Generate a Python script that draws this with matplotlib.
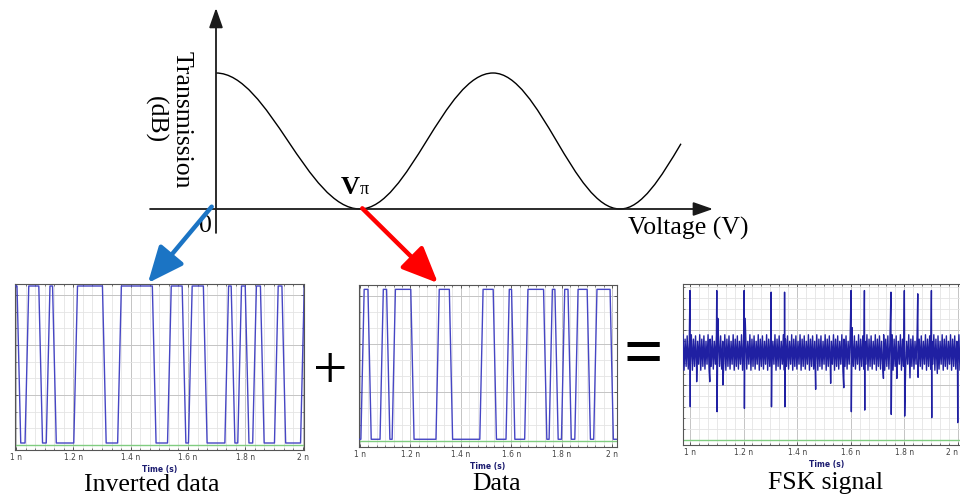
import numpy as np
import matplotlib

matplotlib.use("Agg")

import matplotlib.pyplot as plt
from matplotlib.path import Path
from matplotlib.patches import PathPatch

W, H = 960, 497
SERIF = "Liberation Serif"

# modulator transfer curve, voltage in units of V_pi, transmission normalised
extrema_voltage = [0.0, 1.0, 1.924, 2.806]
extrema_transmission = [1.0, 0.0, 1.0, 0.0]
end_voltage = 3.229
end_transmission = 0.48

# edge times of the bit stream (ns); "Data" starts low, inverted starts high
bit_edges = [1.010, 1.038, 1.086, 1.112, 1.134, 1.208, 1.308, 1.361, 1.482,
             1.535, 1.586, 1.608, 1.660, 1.735, 1.757, 1.780, 1.806, 1.832,
             1.859, 1.908, 1.934, 1.999]
data_high, data_low = 3.13, 0.03
inv_high, inv_low = 3.18, 0.04

# FSK signal: spikes and dips riding on a dense carrier band
spike_times = [1.000, 1.100, 1.202, 1.303, 1.353, 1.601, 1.651, 1.750,
               1.800, 1.850, 1.901, 1.998]
spike_tops = [2.73, 2.73, 2.73, 2.70, 2.70, 2.73, 2.73, 2.70, 2.73, 2.67, 2.73, 1.76]
spike_bottoms = [0.60, 0.51, 0.57, 0.60, 0.60, 0.51, 0.54, 0.46, 0.43, 1.14, 0.40, 0.31]
mid_spike_times = [1.104, 1.206, 1.605]
mid_spike_tops = [2.22, 2.22, 2.05]
dip_times = [1.025, 1.074, 1.123, 1.469, 1.525, 1.574, 1.722, 1.772, 1.821, 1.923]
dip_levels = [1.06, 1.06, 1.00, 0.92, 1.03, 0.95, 1.12, 1.12, 1.13, 1.21]
carrier_tops = [1.92, 1.84, 1.90, 1.80]
carrier_bottoms = [1.27, 1.34, 1.29, 1.38]
carrier_period = 0.0078

time_ticks = [1.0, 1.2, 1.4, 1.6, 1.8, 2.0]
time_labels = ["1 n", "1.2 n", "1.4 n", "1.6 n", "1.8 n", "2 n"]
captions = ["Inverted data", "Data", "FSK signal"]


def px_axes(fig, left, top, right, bottom):
    return fig.add_axes([left / W, 1 - bottom / H, (right - left) / W, (bottom - top) / H])


def square_wave(edges, start_high, high, low, t0, t1, ramp=0.013):
    state = start_high
    ts = [t0]
    vs = [high if state else low]
    for edge in edges:
        old = high if state else low
        state = not state
        new = high if state else low
        ts += [edge - ramp / 2, edge + ramp / 2]
        vs += [old, new]
    ts.append(t1)
    vs.append(high if state else low)
    return ts, vs


def style_scope(ax, xlim, ylim, y_major, y_minor):
    ax.set_xticks(time_ticks)
    ax.set_xticklabels(time_labels)
    ax.set_xticks(np.arange(0.9, 2.1, 1 / 30), minor=True)
    ax.set_yticks(y_major)
    ax.set_yticks(y_minor, minor=True)
    ax.set_yticklabels([])
    # limits after the ticks, set_ticks would widen them otherwise
    ax.set_xlim(xlim)
    ax.set_ylim(ylim)
    ax.grid(which="minor", color="#e4e4e4", linewidth=0.6)
    ax.grid(which="major", color="#c4c4c4", linewidth=0.7)
    ax.set_axisbelow(True)
    for spine in ax.spines.values():
        spine.set_color("#555555")
        spine.set_linewidth(0.8)
    ax.tick_params(which="both", direction="in", top=True, right=True,
                   colors="#444444", labelsize=5.5, pad=2.5)
    ax.tick_params(which="major", length=2.5, width=0.6)
    ax.tick_params(which="minor", length=1.3, width=0.5)
    ax.set_xlabel("Time (s)", fontsize=5.5, fontweight="bold", color="#1c1c70", labelpad=1.5)
    ax.axhline(0, color="#80cc80", linewidth=1.0, zorder=2)


fig = plt.figure(figsize=(W / 100, H / 100), dpi=100)

# ---- transfer curve -------------------------------------------------------
ax_top = px_axes(fig, 140, 0, 730, 240)
ax_top.set_xlim((140 - 216) / 144, (730 - 216) / 144)
ax_top.set_ylim((209 - 240) / 136, 209 / 136)
ax_top.axis("off")

axis_arrow = dict(arrowstyle="-|>,head_length=1.2,head_width=0.42", color="#1a1a1a",
                  lw=1.3, shrinkA=0, shrinkB=0, mutation_scale=10)
ax_top.annotate("", xy=(3.451, 0), xytext=(-0.458, 0), arrowprops=axis_arrow)
ax_top.annotate("", xy=(0, 1.478), xytext=(0, -0.176), arrowprops=axis_arrow)

verts = [(extrema_voltage[0], extrema_transmission[0])]
codes = [Path.MOVETO]
for i in range(len(extrema_voltage) - 1):
    x0, y0 = extrema_voltage[i], extrema_transmission[i]
    x1, y1 = extrema_voltage[i + 1], extrema_transmission[i + 1]
    c = 0.3642 * (x1 - x0)
    verts += [(x0 + c, y0), (x1 - c, y1), (x1, y1)]
    codes += [Path.CURVE4] * 3
x0, y0 = extrema_voltage[-1], extrema_transmission[-1]
verts += [(x0 + 0.15, y0), (end_voltage - 0.14, end_transmission - 1.78 * 0.14),
          (end_voltage, end_transmission)]
codes += [Path.CURVE4] * 3
ax_top.add_patch(PathPatch(Path(verts, codes), fill=False, edgecolor="black", lw=1.0))

ax_top.text(-0.33, 0.655, "Transmission\n(dB)", rotation=-90, ha="center", va="center",
            family=SERIF, fontsize=18.5, multialignment="center", linespacing=1.2)
ax_top.text(2.861, -0.14, "Voltage (V)", ha="left", va="center", family=SERIF, fontsize=18.5)
ax_top.text(-0.075, -0.125, "0", ha="center", va="center", family=SERIF, fontsize=18.5)
ax_top.text(0.935, 0.16, "V", ha="center", va="center", family=SERIF, fontsize=19,
            fontweight="bold")
ax_top.text(1.03, 0.14, "π", ha="center", va="center", family=SERIF, fontsize=13)

# ---- inverted data --------------------------------------------------------
ax_inv = px_axes(fig, 15, 284, 304, 450)
style_scope(ax_inv, (0.9965, 2.0045), (-0.1, 3.22), [0, 1, 2, 3], np.arange(0, 3.3, 1 / 3))
t_inv, v_inv = square_wave(bit_edges, True, inv_high, inv_low, 0.99, 2.01)
ax_inv.plot(t_inv, v_inv, color="#4646c4", lw=1.0, zorder=3)

# ---- data -----------------------------------------------------------------
ax_dat = px_axes(fig, 359, 285, 617, 447)
style_scope(ax_dat, (0.996, 2.02), (-0.13, 3.22), [0, 1, 2, 3], np.arange(0, 3.3, 1 / 3))
t_dat, v_dat = square_wave(bit_edges, False, data_high, data_low, 0.99, 2.03)
ax_dat.plot(t_dat, v_dat, color="#4646c4", lw=1.0, zorder=3)

# ---- FSK signal -----------------------------------------------------------
ax_fsk = px_axes(fig, 683, 284, 970, 445)
style_scope(ax_fsk, (0.974, 2.045), (-0.1, 2.85), [0, 1, 2], np.arange(0, 2.9, 0.2))
# the last label sits on the image edge, keep it inside
ax_fsk.get_xticklabels()[-1].set_horizontalalignment("right")
t_car = np.arange(0.974, 2.05, carrier_period / 2)
k = np.arange(len(t_car))
v_car = np.where(k % 2 == 0, np.take(carrier_tops, (k // 2) % 4),
                 np.take(carrier_bottoms, (k // 2) % 4))
points = list(zip(t_car, v_car))
points += list(zip(spike_times, spike_tops))
points += [(t + 0.0012, b) for t, b in zip(spike_times, spike_bottoms)]
points += list(zip(mid_spike_times, mid_spike_tops))
points += list(zip(dip_times, dip_levels))
points.sort()
t_fsk, v_fsk = zip(*points)
ax_fsk.plot(t_fsk, v_fsk, color="#2020a2", lw=1.0, zorder=3)

# ---- arrows from the bias points to the scopes ----------------------------
ax_top.annotate("", xy=(0.46, 1.006), xycoords=ax_inv.transAxes,
                xytext=(-0.03, 0.017), textcoords="data", annotation_clip=False,
                arrowprops=dict(arrowstyle="-|>,head_length=0.55,head_width=0.24",
                                color="#1b74c4", lw=3.2, shrinkA=0, shrinkB=0,
                                mutation_scale=40))
ax_top.annotate("", xy=(0.306, 1.012), xycoords=ax_dat.transAxes,
                xytext=(1.016, 0.005), textcoords="data", annotation_clip=False,
                arrowprops=dict(arrowstyle="-|>,head_length=0.55,head_width=0.24",
                                color="#ff0000", lw=3.2, shrinkA=0, shrinkB=0,
                                mutation_scale=40))

# ---- captions and operators -----------------------------------------------
caption_px = [(152, 485), (497, 484), (825, 483)]
for (cx, cy), caption in zip(caption_px, captions):
    fig.text(cx / W, 1 - cy / H, caption, ha="center", va="center", family=SERIF, fontsize=18.5)
fig.text(330 / W, 1 - 373 / H, "+", ha="center", va="center", family=SERIF, fontsize=44)
fig.text(643 / W, 1 - 358 / H, "=", ha="center", va="center", family=SERIF, fontsize=50,
         fontweight="bold")

fig.savefig("out.png", dpi=100)
